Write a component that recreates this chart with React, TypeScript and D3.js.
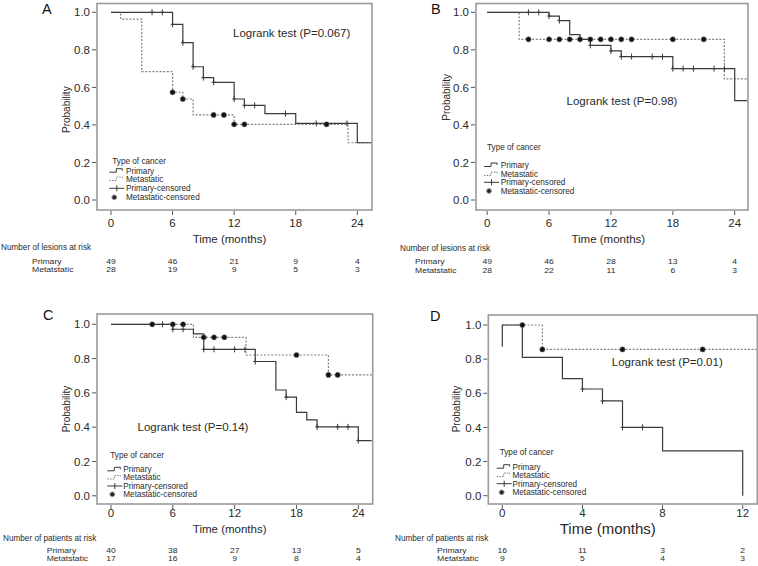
import React from 'react';
import * as d3 from 'd3';

// ---------- DATA ----------
// Panel A (lesions)
const aPrimaryTimes = [0, 6, 7, 8, 9, 10, 12, 13, 15, 18, 24];
const aPrimarySurv = [1, 0.936, 0.838, 0.71, 0.652, 0.627, 0.538, 0.504, 0.46, 0.408, 0.305];
const aPrimaryCensor = [4, 5, 6, 7, 8, 9, 10, 12, 13, 14, 17, 20, 23];
const aMetaTimes = [0, 0.94, 3, 6, 7, 8, 12, 23.1];
const aMetaSurv = [1, 0.964, 0.684, 0.574, 0.538, 0.453, 0.403, 0.305];
const aMetaCensor = [6, 7, 10, 11, 12, 13, 21];
const aRiskPrimary = [49, 46, 21, 9, 4];
const aRiskMeta = [28, 19, 9, 5, 3];

// Panel B (lesions)
const bPrimaryTimes = [0, 6, 7, 8, 9, 10, 12, 13, 18, 24];
const bPrimarySurv = [1, 0.98, 0.956, 0.881, 0.856, 0.824, 0.794, 0.764, 0.7, 0.529];
const bPrimaryCensor = [4, 5, 6, 7, 9, 10, 12, 13, 14, 16, 17, 18, 19, 20, 22, 23];
const bMetaTimes = [0, 3.1, 23];
const bMetaSurv = [1, 0.856, 0.645];
const bMetaCensor = [4, 6, 7, 8, 9, 10, 11, 12, 13, 14, 18, 21];
const bRiskPrimary = [49, 46, 28, 13, 4];
const bRiskMeta = [28, 22, 11, 6, 3];

// Panel C (patients)
const cPrimaryTimes = [0, 6, 8, 9, 14, 16, 17, 18, 19, 20, 24];
const cPrimarySurv = [1, 0.971, 0.944, 0.854, 0.783, 0.617, 0.575, 0.487, 0.443, 0.402, 0.322];
const cPrimaryCensor = [5, 6, 7, 9, 10, 12, 13, 14, 17, 20, 22, 23, 24];
const cMetaTimes = [0, 8, 13.1, 21.1];
const cMetaSurv = [1, 0.924, 0.821, 0.705];
const cMetaCensor = [4, 6, 7, 9, 10, 11, 18, 21.1, 22];
const cRiskPrimary = [40, 38, 27, 13, 5];
const cRiskMeta = [17, 16, 9, 8, 4];

// Panel D (patients)
const dPrimaryTimes = [0, 0, 1, 3, 4, 5, 6, 8, 12];
const dPrimarySurv = [0.873, 1, 0.81, 0.686, 0.625, 0.555, 0.4, 0.263, 0];
const dPrimaryCensor = [4, 5, 6, 7];
const dMetaTimes = [0, 2];
const dMetaSurv = [1, 0.857];
const dMetaCensor = [1, 2, 6, 10];
const dRiskPrimary = [16, 11, 3, 2];
const dRiskMeta = [9, 5, 4, 3];

const ticks24 = [0, 6, 12, 18, 24];
const ticks12 = [0, 4, 8, 12];
const yTicks = [0, 0.2, 0.4, 0.6, 0.8, 1.0];
const legendLabels = ['Primary', 'Metastatic', 'Primary-censored', 'Metastatic-censored'];
const riskRowLabels = ['Primary', 'Metatstatic'];

// ---------- LAYOUT ----------
const FONT = "'Liberation Sans', Arial, Helvetica, sans-serif";
const TXT = '#2a2a2a';
const PRIM = '#3a3a3a';
const META = '#808080';

type Series = { times: number[]; surv: number[]; censor: number[]; extend: boolean };

type PanelProps = {
  letter: string; letterX: number; letterY: number;
  box: [number, number, number, number];
  xDom: number[]; xRange: number[]; yRange: number[];
  xTicks: number[];
  primary: Series; meta: Series;
  logrank: string; logX: number; logY: number;
  probX: number; probY: number;
  tickLabelY: number; timeX: number; timeY: number; timeSize: number;
  legX: number; legTitleY: number; legRows: number[]; legTextX: number;
  riskHeader: string; riskHeaderX: number; riskHeaderY: number;
  riskLabelX: number; riskRowsY: number[]; riskPrimary: number[]; riskMeta: number[];
};

function stepValue(s: Series, t: number) {
  let v = s.surv[0];
  for (let i = 0; i < s.times.length; i++) if (s.times[i] <= t + 1e-9) v = s.surv[i];
  return v;
}

const RISK_FS = 7.4;
const RISK_SX = 1.16;

const Panel: React.FC<PanelProps> = (p) => {
  const [bx0, by0, bx1, by1] = p.box;
  const x = d3.scaleLinear().domain(p.xDom).range(p.xRange);
  const y = d3.scaleLinear().domain([0, 1]).range(p.yRange);
  const xEnd = x.invert(bx1 - 1);
  const line = d3.line<[number, number]>().x(d => x(d[0])).y(d => y(d[1])).curve(d3.curveStepAfter);
  const pts = (s: Series): [number, number][] => {
    const a: [number, number][] = s.times.map((t, i) => [t, s.surv[i]]);
    if (s.extend) a.push([xEnd, s.surv[s.surv.length - 1]]);
    return a;
  };
  const legSym = (i: number, yy: number) => {
    const x0 = p.legX;
    if (i === 0) return <path d={`M${x0},${yy + 1.5}H${x0 + 7}V${yy - 2}H${x0 + 13}V${yy}`} fill="none" stroke={PRIM} strokeWidth={1} />;
    if (i === 1) return <path d={`M${x0},${yy + 1.5}H${x0 + 7}V${yy - 2}H${x0 + 13}V${yy}`} fill="none" stroke={META} strokeWidth={1} strokeDasharray="1.5,1.2" />;
    if (i === 2) return <g stroke={PRIM} strokeWidth={1}><line x1={x0} x2={x0 + 15} y1={yy} y2={yy} /><line x1={x0 + 7.5} x2={x0 + 7.5} y1={yy - 3} y2={yy + 3} /></g>;
    return <circle cx={x0 + 5} cy={yy} r={2.4} fill="#222" stroke="#999" strokeWidth={1} />;
  };
  return (
    <g fontFamily={FONT} fill={TXT}>
      <text x={p.letterX} y={p.letterY} fontSize={14.5} fill="#111">{p.letter}</text>
      <rect x={bx0} y={by0} width={bx1 - bx0} height={by1 - by0} fill="none" stroke="#9a9a9a" strokeWidth={1.6} />
      {yTicks.map(t => (
        <g key={'y' + t}>
          <line x1={bx0 - 5} x2={bx0 - 1} y1={y(t)} y2={y(t)} stroke="#555" strokeWidth={1} />
          <text x={bx0 - 7} y={y(t)} dy="0.36em" textAnchor="end" fontSize={11.5}>{d3.format('.1f')(t)}</text>
        </g>
      ))}
      {p.xTicks.map(t => (
        <g key={'x' + t}>
          <line x1={x(t)} x2={x(t)} y1={by1 + 1} y2={by1 + 5} stroke="#555" strokeWidth={1} />
          <text x={x(t)} y={p.tickLabelY} dy="0.36em" textAnchor="middle" fontSize={11.5}>{t}</text>
        </g>
      ))}
      <text x={p.timeX} y={p.timeY} dy="0.36em" textAnchor="middle" fontSize={p.timeSize}>Time (months)</text>
      <text transform={`translate(${p.probX},${p.probY}) rotate(-90)`} textAnchor="middle" dy="0.36em" fontSize={10}>Probability</text>
      <text x={p.logX} y={p.logY} dy="0.36em" textAnchor="middle" fontSize={11.5}>{p.logrank}</text>
      {/* curves */}
      <path d={line(pts(p.meta)) || ''} fill="none" stroke={META} strokeWidth={1.2} strokeDasharray="2,1.6" />
      <path d={line(pts(p.primary)) || ''} fill="none" stroke={PRIM} strokeWidth={1.2} />
      {p.primary.censor.map((t, i) => {
        const cx = x(t), cy = y(stepValue(p.primary, t));
        return <g key={'pc' + i} stroke={PRIM} strokeWidth={1}><line x1={cx} x2={cx} y1={cy - 3} y2={cy + 3} /><line x1={cx - 2} x2={cx + 2} y1={cy} y2={cy} /></g>;
      })}
      {p.meta.censor.map((t, i) => (
        <circle key={'mc' + i} cx={x(t)} cy={y(stepValue(p.meta, t))} r={2.6} fill="#111" stroke="#777" strokeWidth={0.6} />
      ))}
      {/* legend */}
      <text x={p.legX + 3} y={p.legTitleY} dy="0.36em" fontSize={8.2}>Type of cancer</text>
      {legendLabels.map((l, i) => (
        <g key={l}>
          {legSym(i, p.legRows[i])}
          <text x={p.legTextX} y={p.legRows[i]} dy="0.36em" fontSize={8.2}>{l}</text>
        </g>
      ))}
      {/* risk table */}
      <text x={p.riskHeaderX} y={p.riskHeaderY} dy="0.36em" fontSize={8.2}>{p.riskHeader}</text>
      {riskRowLabels.map((l, r) => (
        <g key={l}>
          <text transform={`translate(${p.riskLabelX},${p.riskRowsY[r]}) scale(${RISK_SX},1)`} dy="0.36em" fontSize={RISK_FS}>{l}</text>
          {(r === 0 ? p.riskPrimary : p.riskMeta).map((v, i) => (
            <text key={i} transform={`translate(${x(p.xTicks[i])},${p.riskRowsY[r]}) scale(${RISK_SX},1)`} dy="0.36em" textAnchor="middle" fontSize={RISK_FS}>{v}</text>
          ))}
        </g>
      ))}
    </g>
  );
};

export default function App() {
  return (
    <svg width={758} height={566} style={{ position: 'absolute', left: 0, top: 0, background: '#fff' }}>
      <rect width={758} height={566} fill="#fff" />
      <Panel letter="A" letterX={42} letterY={14} box={[97, 3.5, 372, 210]}
        xDom={[0, 24]} xRange={[111, 357.3]} yRange={[200, 12.3]} xTicks={ticks24}
        primary={{ times: aPrimaryTimes, surv: aPrimarySurv, censor: aPrimaryCensor, extend: true }}
        meta={{ times: aMetaTimes, surv: aMetaSurv, censor: aMetaCensor, extend: true }}
        logrank="Logrank test (P=0.067)" logX={291.7} logY={33.3}
        probX={66.5} probY={109.7} tickLabelY={223.3} timeX={229.5} timeY={239} timeSize={11.5}
        legX={109.3} legTitleY={161} legRows={[170.7, 179, 188.3, 197.3]} legTextX={126}
        riskHeader="Number of lesions at risk" riskHeaderX={1} riskHeaderY={247.5}
        riskLabelX={32} riskRowsY={[261.5, 269.8]} riskPrimary={aRiskPrimary} riskMeta={aRiskMeta} />
      <Panel letter="B" letterX={431} letterY={13.5} box={[476, 3.5, 748, 210]}
        xDom={[0, 24]} xRange={[487.2, 734.7]} yRange={[200, 12.3]} xTicks={ticks24}
        primary={{ times: bPrimaryTimes, surv: bPrimarySurv, censor: bPrimaryCensor, extend: true }}
        meta={{ times: bMetaTimes, surv: bMetaSurv, censor: bMetaCensor, extend: true }}
        logrank="Logrank test (P=0.98)" logX={622} logY={100.7}
        probX={446.7} probY={97.3} tickLabelY={223.3} timeX={608.3} timeY={239} timeSize={11.5}
        legX={484} legTitleY={146.7} legRows={[165, 174, 182.3, 191]} legTextX={500.7}
        riskHeader="Number of lesions at risk" riskHeaderX={400} riskHeaderY={248}
        riskLabelX={415} riskRowsY={[261.8, 270]} riskPrimary={bRiskPrimary} riskMeta={bRiskMeta} />
      <Panel letter="C" letterX={43} letterY={320} box={[97, 314, 372.7, 504]}
        xDom={[0, 24]} xRange={[111, 358.3]} yRange={[495.8, 324.3]} xTicks={ticks24}
        primary={{ times: cPrimaryTimes, surv: cPrimarySurv, censor: cPrimaryCensor, extend: true }}
        meta={{ times: cMetaTimes, surv: cMetaSurv, censor: cMetaCensor, extend: true }}
        logrank="Logrank test (P=0.14)" logX={193} logY={426.7}
        probX={66} probY={409} tickLabelY={513.3} timeX={229.7} timeY={529} timeSize={11.5}
        legX={107.3} legTitleY={455} legRows={[469.3, 477.5, 486, 494.3]} legTextX={123.3}
        riskHeader="Number of patients at risk" riskHeaderX={3} riskHeaderY={538.3}
        riskLabelX={46.7} riskRowsY={[550.7, 558.7]} riskPrimary={cRiskPrimary} riskMeta={cRiskMeta} />
      <Panel letter="D" letterX={430} letterY={320.7} box={[488.3, 315, 757.3, 504]}
        xDom={[0, 12]} xRange={[502.3, 742.7]} yRange={[495.7, 325]} xTicks={ticks12}
        primary={{ times: dPrimaryTimes, surv: dPrimarySurv, censor: dPrimaryCensor, extend: false }}
        meta={{ times: dMetaTimes, surv: dMetaSurv, censor: dMetaCensor, extend: true }}
        logrank="Logrank test (P=0.01)" logX={667.3} logY={361.7}
        probX={456.7} probY={409} tickLabelY={513.3} timeX={607.8} timeY={528.3} timeSize={15}
        legX={496.7} legTitleY={451.7} legRows={[466.7, 475, 483.7, 492.3]} legTextX={512.5}
        riskHeader="Number of patients at risk" riskHeaderX={395} riskHeaderY={538.3}
        riskLabelX={437} riskRowsY={[550.7, 558.7]} riskPrimary={dRiskPrimary} riskMeta={dRiskMeta} />
    </svg>
  );
}
